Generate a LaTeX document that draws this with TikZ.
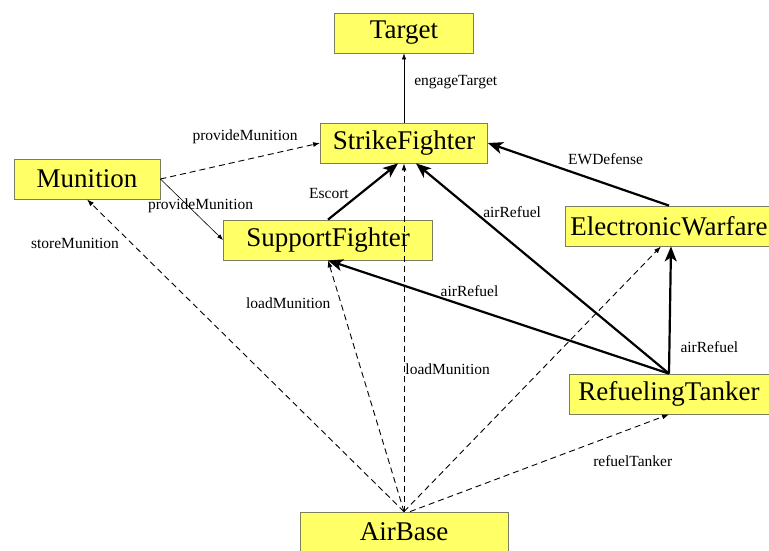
\documentclass[tikz,border=0pt]{standalone}
\usepackage{fontspec}
\setmainfont{Liberation Serif}
\usepackage{xcolor}
\usepackage{tikz}
\usetikzlibrary{positioning, arrows.meta}

\definecolor{boxfill}{RGB}{255,255,102}
\definecolor{boxline}{RGB}{125,125,95}

\begin{document}
\begin{tikzpicture}[x=1pt, y=-1pt, on grid,
        cls/.style={draw=boxline, line width=0.8pt, fill=boxfill, minimum height=40pt,
            inner sep=0pt, font=\fontsize{27}{30}\selectfont},
        lbl/.style={font=\fontsize{15.5}{17}\selectfont, inner sep=1pt},
        thinrel/.style={line width=0.6pt, -{Latex[length=6pt,width=4.5pt]}},
        dashrel/.style={line width=0.9pt, dash pattern=on 6pt off 4pt, -{Latex[length=7pt,width=5pt]}},
        boldrel/.style={line width=2.2pt, -{Stealth[length=15pt,width=12pt,inset=4pt]}}]
        \useasboundingbox (0,0) rectangle (769,550);
        \node[cls, minimum width=139pt] (target) at (404,33) {Target};
        \node[cls, minimum width=167pt] (strike) [below=110pt of target] {StrikeFighter};
        \node[cls, minimum width=146pt] (munition) [below left=36pt and 317pt of strike] {Munition};
        \node[cls, minimum width=209pt] (support) [below left=97pt and 76pt of strike] {SupportFighter};
        \node[cls, minimum width=208pt] (ew) [below right=83pt and 265pt of strike] {ElectronicWarfare};
        \node[cls, minimum width=200pt] (tanker) [below=168pt of ew] {RefuelingTanker};
        \node[cls, minimum width=208pt] (airbase) [below=389pt of strike] {AirBase};

        % thin solid relations
        \path[thinrel]
        (strike.north) edge node[lbl, pos=0.58, right=9pt] {engageTarget} (target.south)
        (munition.east) edge node[lbl, pos=0.64, yshift=12pt] {provideMunition} (support.west);

        % bold relations
        \path[boldrel]
        (support.north) edge node[lbl, pos=0.47, left=10pt] {Escort} ([xshift=-6pt]strike.south)
        (ew.north) edge node[lbl, pos=0.35, above=17pt] {EWDefense} (strike.east)
        (tanker.north) edge node[lbl, pos=0.77, right=7pt] {airRefuel} ([xshift=12pt]strike.south)
             edge node[lbl, pos=0.585, above=9pt] {airRefuel} (support.south)
             edge node[lbl, pos=0.21, right=9pt] {airRefuel} ([xshift=2pt]ew.south);

        % dashed relations
        \path[dashrel]
        (munition.east) edge node[lbl, pos=0.53, above=15pt] {provideMunition} (strike.west)
        (airbase.north) edge node[lbl, pos=0.86, left=11pt] {storeMunition} (munition.south)
             edge node[lbl, pos=0.83, left=9pt] {loadMunition} (support.south)
             edge node[lbl, pos=0.41, right=0pt] {loadMunition} (strike.south)
             edge ([xshift=-8pt]ew.south)
        ([xshift=6pt]airbase.north) edge node[lbl, pos=0.86, below=26pt] {refuelTanker} (tanker.south);
\end{tikzpicture}
\end{document}
